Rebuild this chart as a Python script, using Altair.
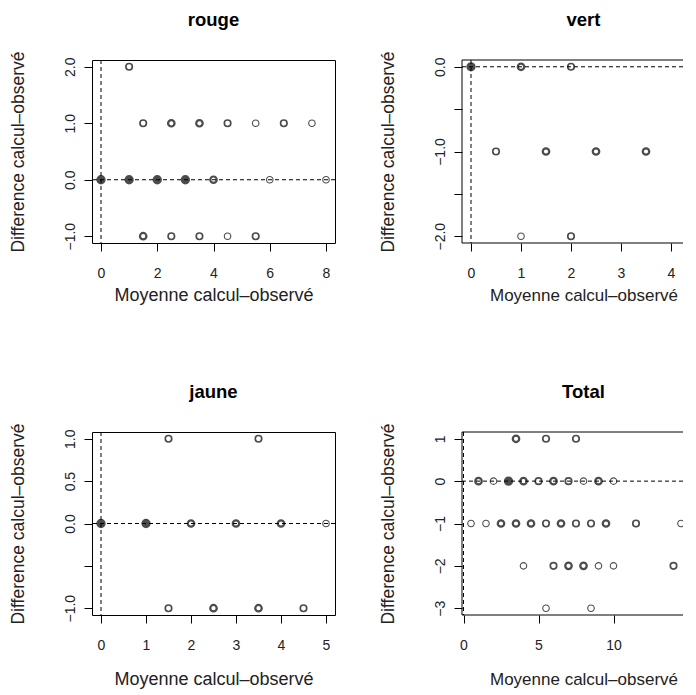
import altair as alt
import pandas as pd

FONT = "Liberation Sans"
XTITLE = "Moyenne calcul–observé"
YTITLE = "Difference calcul–observé"

# ---- data: (x = mean, y = difference, w = overplot weight 1..4) ----
rouge_x = [1, 1.5, 2.5, 3.5, 4.5, 5.5, 6.5, 7.5, 0, 1, 2, 3, 4, 6, 8, 1.5, 2.5, 3.5, 4.5, 5.5]
rouge_y = [2, 1, 1, 1, 1, 1, 1, 1, 0, 0, 0, 0, 0, 0, 0, -1, -1, -1, -1, -1]
rouge_w = [2, 2, 3, 3, 2, 1, 2, 1, 4, 4, 4, 4, 3, 1, 1, 3, 2, 2, 1, 2]

vert_x = [0, 1, 2, 0.5, 1.5, 2.5, 3.5, 4.5, 1, 2]
vert_y = [0, 0, 0, -1, -1, -1, -1, -1, -2, -2]
vert_w = [4, 3, 2, 2, 3, 3, 3, 3, 1, 2]

jaune_x = [1.5, 3.5, 0, 1, 2, 3, 4, 5, 1.5, 2.5, 3.5, 4.5]
jaune_y = [1, 1, 0, 0, 0, 0, 0, 0, -1, -1, -1, -1]
jaune_w = [2, 2, 4, 4, 3, 3, 3, 1, 2, 3, 3, 2]

total_x = [3.5, 5.5, 7.5,
           1, 2, 3, 4, 5, 6, 7, 8, 9, 10,
           0.5, 1.5, 2.5, 3.5, 4.5, 5.5, 6.5, 7.5, 8.5, 9.5, 11.5, 14.5, 15.5,
           4, 6, 7, 8, 9, 10, 14,
           5.5, 8.5]
total_y = [1, 1, 1,
           0, 0, 0, 0, 0, 0, 0, 0, 0, 0,
           -1, -1, -1, -1, -1, -1, -1, -1, -1, -1, -1, -1, -1,
           -2, -2, -2, -2, -2, -2, -2,
           -3, -3]
total_w = [3, 2, 2,
           3, 1, 4, 3, 2, 3, 2, 1, 3, 1,
           1, 1, 3, 3, 3, 2, 3, 2, 2, 3, 2, 1, 1,
           1, 2, 3, 3, 1, 1, 2,
           1, 1]

WL, WR, H = 243, 221, 183

# axis limits (R style: data range + 4%; right-hand panels are cut off at the page edge)
rouge_xdom, rouge_ydom = [-0.32, 8.32], [-1.12, 2.12]
vert_xdom, vert_ydom = [-0.18, -0.18 + 4.86 * WR / WL], [-2.08, 0.08]
jaune_xdom, jaune_ydom = [-0.2, 5.2], [-1.08, 1.08]
total_xdom, total_ydom = [-0.1, -0.1 + 16.2 * WR / WL], [-3.16, 1.16]

rouge_xt, rouge_yt = [0, 2, 4, 6, 8], [-1, -0.5, 0, 0.5, 1, 1.5, 2]
vert_xt, vert_yt = [0, 1, 2, 3, 4], [-2, -1.5, -1, -0.5, 0]
jaune_xt, jaune_yt = [0, 1, 2, 3, 4, 5], [-1, -0.5, 0, 0.5, 1]
total_xt, total_yt = [0, 5, 10, 15], [-3, -2, -1, 0, 1]


def panel(title, xs, ys, ws, xdom, ydom, xt, yt, ylab_expr, width, cut, xtitle_y):
    df = pd.DataFrame({"x": xs, "y": ys, "w": ws})
    xscale = alt.Scale(domain=xdom, nice=False, zero=False)
    yscale = alt.Scale(domain=ydom, nice=False, zero=False)
    xaxis = alt.Axis(values=xt, title=XTITLE, format="d", labelOverlap=False,
                     labelFlush=False, labelBaseline="middle", labelPadding=22,
                     titleFontSize=17 if cut else 18,
                     titleX=WL / 2, titleY=xtitle_y, titleBaseline="middle", titleAlign="center")
    yaxis = alt.Axis(values=yt, title=YTITLE, labelExpr=ylab_expr, labelOverlap=False,
                     labelFlush=False, labelAngle=270, labelAlign="center",
                     labelBaseline="middle", labelPadding=14,
                     titleFontSize=17.5,
                     titleX=-74, titleY=H / 2, titleAngle=270, titleAlign="center",
                     titleBaseline="middle")
    pts = alt.Chart(df).mark_point(shape="circle", size=42, color="black", clip=True).encode(
        x=alt.X("x:Q", scale=xscale, axis=xaxis),
        y=alt.Y("y:Q", scale=yscale, axis=yaxis),
        strokeWidth=alt.StrokeWidth("w:Q", scale=alt.Scale(domain=[1, 4], range=[1.1, 2.8]), legend=None),
        fill=alt.condition("datum.w >= 4", alt.value("black"), alt.value("transparent")),
    )
    dash = dict(color="black", strokeWidth=1, strokeDash=[4, 3], clip=True)
    hline = alt.Chart(pd.DataFrame({"y": [0]})).mark_rule(**dash).encode(y="y:Q")
    vline = alt.Chart(pd.DataFrame({"x": [0]})).mark_rule(**dash).encode(x="x:Q")
    layers = [hline, vline]
    props = dict(width=width, height=H)
    if cut:
        # plot frame without its right side (cut off by the page edge)
        solid = dict(color="black", strokeWidth=1)
        top = alt.Chart(pd.DataFrame({"y": [ydom[1]]})).mark_rule(**solid).encode(y="y:Q")
        bot = alt.Chart(pd.DataFrame({"y": [ydom[0]]})).mark_rule(**solid).encode(y="y:Q")
        left = alt.Chart(pd.DataFrame({"x": [xdom[0]]})).mark_rule(**solid).encode(x="x:Q")
        layers += [top, bot, left]
        props["view"] = alt.ViewBackground(stroke=None)
    layers.append(pts)
    return alt.layer(*layers).properties(
        title=alt.TitleParams(title, fontSize=18.5, fontWeight="bold", font=FONT, color="black",
                              anchor="start", align="center", dx=WL / 2, frame="group",
                              baseline="alphabetic", offset=6.5),
        **props,
    )


int_lab = "datum.value % 1 == 0 ? format(datum.value, '.1f') : ''"
jaune_lab = "datum.value == -0.5 ? '' : format(datum.value, '.1f')"
total_lab = "format(datum.value, 'd')"

p1 = panel("rouge", rouge_x, rouge_y, rouge_w, rouge_xdom, rouge_ydom, rouge_xt, rouge_yt, int_lab, WL, False, 52)
p2 = panel("vert", vert_x, vert_y, vert_w, vert_xdom, vert_ydom, vert_xt, vert_yt, int_lab, WR, True, 52)
p3 = panel("jaune", jaune_x, jaune_y, jaune_w, jaune_xdom, jaune_ydom, jaune_xt, jaune_yt, jaune_lab, WL, False, 64)
p4 = panel("Total", total_x, total_y, total_w, total_xdom, total_ydom, total_xt, total_yt, total_lab, WR, True, 64)

chart = alt.concat(p1, p2, p3, p4, columns=2, spacing={"row": 189, "column": 127}, bounds="flush").properties(
    padding={"left": 0, "top": 2, "right": 0, "bottom": 0},
    background="white",
).configure_view(
    stroke="black", strokeWidth=1
).configure_axis(
    domain=False, grid=False, ticks=True, tickColor="black", tickSize=8, tickWidth=1,
    labelFont=FONT, labelFontSize=14, labelColor="#222",
    titleFont=FONT, titleFontWeight="normal", titleColor="#222",
)

chart.save("out.html", embed_options={"renderer": "svg", "actions": False})
